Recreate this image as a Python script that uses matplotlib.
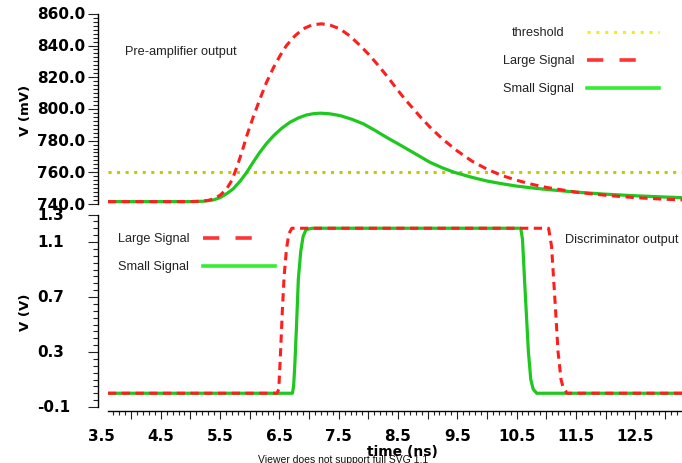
import numpy as np
import matplotlib
matplotlib.use("Agg")
import matplotlib.pyplot as plt
from matplotlib.lines import Line2D
from matplotlib.ticker import MultipleLocator, FixedLocator, NullFormatter
import matplotlib.transforms as mtrans

# pre-amplifier output (mV) vs time (ns)
pre_t_large = [3.61, 4.5, 5.0, 5.2, 5.3, 5.39, 5.5, 5.61, 5.7, 5.78, 5.87, 5.95, 6.06,
               6.17, 6.28, 6.40, 6.51, 6.62, 6.76, 6.90, 7.05, 7.21, 7.36, 7.52, 7.69,
               7.86, 8.03, 8.20, 8.34, 8.48, 8.62, 8.76, 8.90, 9.04, 9.25, 9.5, 9.75,
               10.0, 10.25, 10.5, 10.75, 11.0, 11.5, 12.0, 12.5, 13.0, 13.29]
pre_v_large = [741.5, 741.5, 741.5, 741.8, 742.3, 743.2, 745.5, 749.5, 755.0, 763.0,
               773.0, 783.0, 795.0, 806.0, 816.5, 826.0, 833.5, 840.0, 846.0, 850.5,
               853.0, 853.7, 852.8, 850.5, 846.0, 840.0, 833.5, 826.0, 819.5, 812.6,
               806.0, 800.0, 794.0, 788.5, 781.0, 773.5, 767.0, 762.0, 758.0, 755.0,
               752.5, 750.5, 747.5, 745.5, 744.0, 743.0, 742.6]

pre_t_small = [3.61, 4.5, 5.0, 5.2, 5.3, 5.39, 5.5, 5.61, 5.72, 5.84, 5.95, 6.06, 6.17,
               6.28, 6.40, 6.54, 6.68, 6.82, 6.96, 7.08, 7.19, 7.35, 7.52, 7.72, 7.92,
               8.11, 8.31, 8.50, 8.70, 8.87, 9.04, 9.25, 9.45, 9.75, 10.0, 10.25, 10.5,
               10.75, 11.0, 11.5, 12.0, 12.5, 13.0, 13.29]
pre_v_small = [741.5, 741.5, 741.5, 741.7, 742.1, 742.6, 744.0, 746.5, 749.5, 754.5,
               760.0, 766.5, 772.6, 778.0, 783.0, 787.8, 791.6, 794.3, 796.2, 797.0,
               797.3, 796.9, 795.8, 793.5, 790.5, 786.5, 782.0, 778.0, 773.7, 770.0,
               766.3, 762.8, 760.0, 756.8, 754.5, 752.8, 751.3, 750.2, 749.2, 747.5,
               746.2, 745.2, 744.4, 744.0]

threshold_mv = 760.0

# discriminator output (V) vs time (ns)
disc_t_large = [3.61, 6.46, 6.49, 6.52, 6.55, 6.58, 6.62, 6.66, 6.71, 11.04, 11.09,
                11.15, 11.20, 11.25, 11.28, 11.35, 13.29]
disc_v_large = [0.0, 0.0, 0.03, 0.3, 0.6, 0.85, 1.05, 1.16, 1.2, 1.2, 1.07,
                0.66, 0.30, 0.10, 0.05, 0.0, 0.0]

disc_t_small = [3.61, 6.72, 6.74, 6.76, 6.79, 6.82, 6.86, 6.90, 6.95, 7.05, 10.57,
                10.60, 10.64, 10.70, 10.74, 10.78, 10.84, 13.29]
disc_v_small = [0.0, 0.0, 0.05, 0.2, 0.5, 0.83, 1.03, 1.14, 1.19, 1.2, 1.2,
                1.12, 0.78, 0.30, 0.10, 0.03, 0.0, 0.0]

x_labels = [3.5, 4.5, 5.5, 6.5, 7.5, 8.5, 9.5, 10.5, 11.5, 12.5]
top_labels = [860, 840, 820, 800, 780, 760, 740]
bot_labels = [1.3, 1.1, 0.7, 0.3, -0.1]

RED = '#ff1e1e'
GREEN = '#1ec81e'
YEL = '#c8c800'
W, H = 682, 464
PX = 72.0 / 100  # points per pixel


def box(x0, y0, x1, y1):
    return [x0 / W, 1 - y1 / H, (x1 - x0) / W, (y1 - y0) / H]


def dash_red(lw=2.2):
    return dict(color=RED, lw=lw, linestyle=(0, (2.7, 1.8)), solid_capstyle='butt',
                dash_capstyle='butt')


fig = plt.figure(figsize=(W / 100, H / 100), dpi=100)
fig.patch.set_facecolor('white')

ax1 = fig.add_axes(box(108, 14.8, 682, 205))
ax2 = fig.add_axes(box(108, 215.5, 682, 408))

for ax in (ax1, ax2):
    ax.set_xlim(3.61, 13.29)
    for s in ('top', 'right'):
        ax.spines[s].set_visible(False)
    ax.spines['left'].set_position(('outward', 10 * PX))
    ax.spines['left'].set_linewidth(1.0)
    ax.set_facecolor('none')
    ax.yaxis.set_major_formatter(NullFormatter())
    ax.tick_params(axis='y', which='major', length=10 * PX, width=0.8, color='#222222')
    ax.tick_params(axis='y', which='minor', length=5 * PX, width=0.8, color='#222222')

# top panel: pre-amplifier
ax1.spines['bottom'].set_visible(False)
ax1.tick_params(axis='x', which='both', bottom=False, labelbottom=False)
ax1.set_ylim(740, 860)
ax1.yaxis.set_major_locator(MultipleLocator(20))
ax1.yaxis.set_minor_locator(MultipleLocator(2.5))
ax1.axhline(threshold_mv, color=YEL, lw=2.2, linestyle=(0, (1, 1.8)), zorder=1)
ax1.plot(pre_t_small, pre_v_small, color=GREEN, lw=2.3, zorder=2)
ax1.plot(pre_t_large, pre_v_large, zorder=3, **dash_red())

# bottom panel: discriminator
ax2.set_ylim(-0.1, 1.3)
ax2.yaxis.set_major_locator(FixedLocator(bot_labels))
ax2.yaxis.set_minor_locator(MultipleLocator(0.05))
ax2.spines['bottom'].set_position(('outward', 4 * PX))
ax2.spines['bottom'].set_linewidth(1.0)
ax2.xaxis.set_major_locator(MultipleLocator(0.5))
ax2.xaxis.set_minor_locator(MultipleLocator(0.1))
ax2.xaxis.set_major_formatter(NullFormatter())
ax2.tick_params(axis='x', which='major', length=8 * PX, width=0.8, color='#222222')
ax2.tick_params(axis='x', which='minor', length=4 * PX, width=0.8, color='#222222')
ax2.plot(disc_t_small, disc_v_small, color=GREEN, lw=2.3, zorder=2)
ax2.plot(disc_t_large, disc_v_large, zorder=3, **dash_red())

# tick labels
tick_font = dict(fontsize=11, fontweight='bold', color='black', family='DejaVu Sans')
tr1 = mtrans.blended_transform_factory(fig.transFigure, ax1.transData)
for v in top_labels:
    ax1.text(37 / W, v, f"{v:.1f}", transform=tr1, ha='left', va='center', **tick_font)
tr2 = mtrans.blended_transform_factory(fig.transFigure, ax2.transData)
for v in bot_labels:
    ax2.text(37 / W, v, f"{v:.1f}", transform=tr2, ha='left', va='center', **tick_font)
trx = mtrans.blended_transform_factory(ax2.transData, fig.transFigure)
for v in x_labels:
    ax2.text(v, 1 - 437 / H, f"{v:.1f}", transform=trx, ha='center', va='center',
             clip_on=False, **tick_font)

lab_font = dict(fontsize=9.5, fontweight='bold', color='black', family='DejaVu Sans')
fig.text(25 / W, 1 - 110 / H, "V (mV)", rotation=90, ha='center', va='center', **lab_font)
fig.text(25 / W, 1 - 312 / H, "V (V)", rotation=90, ha='center', va='center', **lab_font)

fig.text(258 / W, 1 - 460 / H, "Viewer does not support full SVG 1.1", ha='left',
         va='center', fontsize=7.5, color='#111111', family='Liberation Sans')
fig.text(402 / W, 1 - 452 / H, "time (ns)", ha='center', va='center', fontsize=10,
         fontweight='bold', color='black', family='DejaVu Sans')

# annotations and legends
txt = dict(fontsize=9.2, color='#222222', family='Liberation Sans', va='center')
fig.text(125 / W, 1 - 52 / H, "Pre-amplifier output", ha='left', **txt)
fig.text(565 / W, 1 - 240 / H, "Discriminator output", ha='left', **txt)

fig.text(512 / W, 1 - 33 / H, "threshold", ha='left', **txt)
fig.text(503 / W, 1 - 61 / H, "Large Signal", ha='left', **txt)
fig.text(503 / W, 1 - 89 / H, "Small Signal", ha='left', **txt)
fig.add_artist(Line2D([587 / W, 659 / W], [1 - 33 / H] * 2, color='#f2f200', lw=2.2,
                      linestyle=(0, (1, 1.9)), transform=fig.transFigure))
fig.add_artist(Line2D([587 / W, 650 / W], [1 - 61 / H] * 2, color='#ff3333', lw=2.6,
                      linestyle=(0, (4.5, 4.5)), transform=fig.transFigure))
fig.add_artist(Line2D([587 / W, 659 / W], [1 - 89 / H] * 2, color='#33ee33', lw=2.6,
                      transform=fig.transFigure))

fig.text(118 / W, 1 - 239 / H, "Large Signal", ha='left', **txt)
fig.text(118 / W, 1 - 267 / H, "Small Signal", ha='left', **txt)
fig.add_artist(Line2D([203 / W, 266 / W], [1 - 239 / H] * 2, color='#ff3333', lw=2.6,
                      linestyle=(0, (4.5, 4.5)), transform=fig.transFigure))
fig.add_artist(Line2D([203 / W, 275 / W], [1 - 267 / H] * 2, color='#33ee33', lw=2.6,
                      transform=fig.transFigure))

fig.savefig("out.png", dpi=100)
